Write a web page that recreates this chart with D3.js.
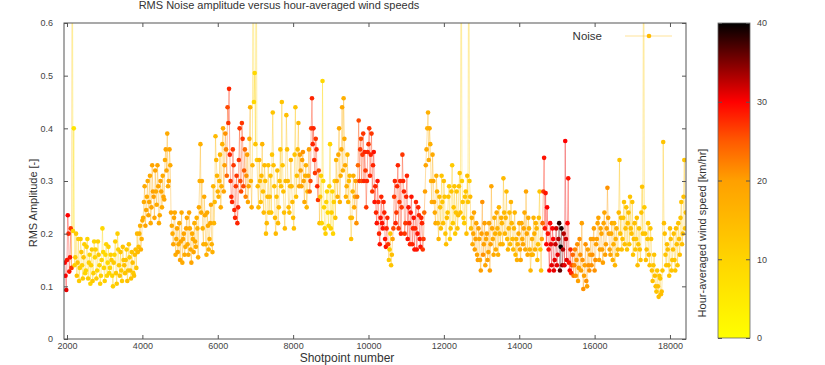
<!DOCTYPE html>
<html>
<head>
<meta charset="utf-8">
<script src="https://cdn.jsdelivr.net/npm/d3@7"></script>
<style>
  body { margin: 0; background: #fff; }
  text { font-family: "Liberation Sans", Arial, sans-serif; }
</style>
</head>
<body>
<svg id="chart" width="825" height="365"></svg>
<script>
// shotpoint numbers, RMS amplitude and hour-averaged wind speed
// (two interleaved passes, merged by shotpoint below)
const shots = [
  1940,1980,2020,2060,2100,2140,2180,2220,2260,2300,
  2340,2380,2420,2460,2500,2540,2580,2620,2660,2700,
  2740,2780,2820,2860,2900,2940,2980,3020,3060,3100,
  3140,3180,3220,3260,3300,3340,3380,3420,3460,3500,
  3540,3580,3620,3660,3700,3740,3780,3820,3860,3900,
  3940,3980,4020,4060,4100,4140,4180,4220,4260,4300,
  4340,4380,4420,4460,4500,4540,4580,4620,4660,4700,
  4740,4780,4820,4860,4900,4940,4980,5020,5060,5100,
  5140,5180,5220,5260,5300,5340,5380,5420,5460,5500,
  5540,5580,5620,5660,5700,5740,5780,5820,5860,5900,
  5940,5980,6020,6060,6100,6140,6180,6220,6260,6300,
  6340,6380,6420,6460,6500,6540,6580,6620,6660,6700,
  6740,6780,6820,6860,6900,6940,6980,7020,7060,7100,
  7140,7180,7220,7260,7300,7340,7380,7420,7460,7500,
  7540,7580,7620,7660,7700,7740,7780,7820,7860,7900,
  7940,7980,8020,8060,8100,8140,8180,8220,8260,8300,
  8340,8380,8420,8460,8500,8540,8580,8620,8660,8700,
  8740,8780,8820,8860,8900,8940,8980,9020,9060,9100,
  9140,9180,9220,9260,9300,9340,9380,9420,9460,9500,
  9540,9580,9620,9660,9700,9740,9780,9820,9860,9900,
  9940,9980,10020,10060,10100,10140,10180,10220,10260,10300,
  10340,10380,10420,10460,10500,10540,10580,10620,10660,10700,
  10740,10780,10820,10860,10900,10940,10980,11020,11060,11100,
  11140,11180,11220,11260,11300,11340,11380,11420,11460,11500,
  11540,11580,11620,11660,11700,11740,11780,11820,11860,11900,
  11940,11980,12020,12060,12100,12140,12180,12220,12260,12300,
  12340,12380,12420,12460,12500,12540,12580,12620,12660,12700,
  12740,12780,12820,12860,12900,12940,12980,13020,13060,13100,
  13140,13180,13220,13260,13300,13340,13380,13420,13460,13500,
  13540,13580,13620,13660,13700,13740,13780,13820,13860,13900,
  13940,13980,14020,14060,14100,14140,14180,14220,14260,14300,
  14340,14380,14420,14460,14500,14540,14580,14620,14660,14700,
  14740,14780,14820,14860,14900,14940,14980,15020,15060,15100,
  15140,15180,15220,15260,15300,15340,15380,15420,15460,15500,
  15540,15580,15620,15660,15700,15740,15780,15820,15860,15900,
  15940,15980,16020,16060,16100,16140,16180,16220,16260,16300,
  16340,16380,16420,16460,16500,16540,16580,16620,16660,16700,
  16740,16780,16820,16860,16900,16940,16980,17020,17060,17100,
  17140,17180,17220,17260,17300,17340,17380,17420,17460,17500,
  17540,17580,17620,17660,17700,17740,17780,17820,17860,17900,
  17940,17980,18020,18060,18100,18140,18180,18220,18260,18300,
  18340,18380,18420
];

const rms = [
  0.145,0.093,0.235,0.128,0.21,0.95,0.40,0.155,0.12,0.19,
  0.135,0.165,0.115,0.18,0.13,0.19,0.145,0.105,0.17,0.125,
  0.155,0.115,0.185,0.14,0.12,0.21,0.135,0.16,0.12,0.175,
  0.135,0.15,0.10,0.16,0.125,0.2,0.14,0.165,0.11,0.15,
  0.125,0.17,0.13,0.155,0.115,0.145,0.12,0.17,0.2,0.175,
  0.215,0.19,0.23,0.29,0.245,0.30,0.26,0.22,0.33,0.27,
  0.32,0.255,0.29,0.235,0.28,0.31,0.265,0.36,0.39,0.30,
  0.33,0.215,0.18,0.24,0.19,0.165,0.22,0.185,0.145,0.2,
  0.175,0.23,0.16,0.21,0.145,0.19,0.22,0.175,0.21,0.25,
  0.37,0.30,0.18,0.235,0.16,0.215,0.19,0.255,0.165,0.22,
  0.385,0.31,0.27,0.35,0.29,0.40,0.33,0.36,0.44,0.475,
  0.30,0.26,0.33,0.23,0.31,0.25,0.40,0.28,0.38,0.32,
  0.27,0.35,0.29,0.44,0.25,0.95,0.505,0.9,0.29,0.34,
  0.26,0.37,0.24,0.30,0.22,0.33,0.27,0.24,0.43,0.29,
  0.20,0.32,0.25,0.36,0.45,0.28,0.21,0.425,0.30,0.24,
  0.34,0.26,0.21,0.44,0.31,0.41,0.35,0.29,0.355,0.26,
  0.33,0.28,0.36,0.30,0.457,0.40,0.315,0.36,0.264,0.22,
  0.31,0.49,0.25,0.20,0.28,0.215,0.37,0.24,0.20,0.30,
  0.34,0.27,0.40,0.31,0.44,0.457,0.33,0.29,0.26,0.31,
  0.19,0.28,0.25,0.30,0.27,0.415,0.36,0.30,0.39,0.355,
  0.25,0.355,0.40,0.35,0.28,0.355,0.29,0.22,0.26,0.18,
  0.27,0.21,0.24,0.175,0.23,0.15,0.20,0.16,0.21,0.30,
  0.24,0.33,0.26,0.20,0.35,0.28,0.22,0.31,0.25,0.18,
  0.27,0.21,0.17,0.26,0.20,0.235,0.175,0.22,0.19,0.28,
  0.36,0.43,0.40,0.30,0.35,0.26,0.22,0.28,0.19,0.25,
  0.31,0.22,0.27,0.18,0.24,0.29,0.21,0.33,0.25,0.20,
  0.28,0.235,0.315,0.95,0.26,0.22,0.28,0.31,0.95,0.27,
  0.23,0.20,0.17,0.22,0.15,0.19,0.13,0.26,0.18,0.14,
  0.20,0.165,0.13,0.29,0.19,0.23,0.17,0.21,0.25,0.18,
  0.22,0.305,0.20,0.28,0.17,0.24,0.26,0.19,0.21,0.16,
  0.15,0.20,0.17,0.22,0.18,0.24,0.28,0.16,0.21,0.13,
  0.19,0.23,0.17,0.21,0.18,0.28,0.13,0.22,0.344,0.277,
  0.25,0.17,0.22,0.14,0.19,0.15,0.21,0.16,0.22,0.175,
  0.14,0.20,0.376,0.15,0.305,0.13,0.125,0.16,0.14,0.12,
  0.18,0.135,0.16,0.22,0.095,0.14,0.11,0.17,0.13,0.19,
  0.16,0.21,0.15,0.19,0.23,0.17,0.20,0.145,0.24,0.18,
  0.287,0.20,0.16,0.22,0.18,0.14,0.21,0.17,0.34,0.23,
  0.19,0.26,0.21,0.17,0.24,0.27,0.20,0.16,0.22,0.19,
  0.14,0.21,0.15,0.289,0.95,0.20,0.17,0.22,0.14,0.19,
  0.11,0.16,0.10,0.13,0.08,0.115,0.09,0.374,0.20,0.14,
  0.17,0.12,0.19,0.15,0.20,0.13,0.18,0.22,0.16,0.26,
  0.20,0.34,0.24
];

const wind = [
  30,31,30,29,27,5,6,12,13,12,
  11,13,12,11,10,10,11,10,12,11,
  10,12,11,10,11,9,10,9,10,11,
  10,12,11,10,12,11,12,13,12,13,
  13,12,13,12,13,14,13,14,15,14,
  17,17,18,18,19,18,19,18,19,20,
  19,18,19,18,19,18,19,19,18,19,
  18,18,19,18,18,19,18,19,18,19,
  18,19,18,18,19,18,17,18,17,18,
  17,18,17,18,17,18,17,18,17,16,
  15,16,17,16,17,18,20,22,26,28,
  27,28,27,28,27,28,27,26,27,25,
  22,20,19,17,18,8,9,9,15,16,
  14,16,15,14,15,14,15,13,13,14,
  15,14,15,14,13,14,15,14,15,14,
  16,15,14,13,14,15,20,19,21,18,
  17,16,20,26,28,28,27,28,27,14,
  11,9,10,11,10,9,10,11,10,12,
  16,17,18,17,18,17,18,17,16,15,
  14,16,18,20,22,26,27,26,27,28,
  27,28,27,28,27,29,28,29,28,29,
  28,29,28,29,28,12,13,14,26,28,
  27,28,27,28,27,28,27,28,29,28,
  29,28,29,28,29,28,29,28,27,20,
  18,17,18,17,18,19,18,17,16,14,
  13,14,13,14,13,12,13,12,13,12,
  13,14,13,10,13,12,13,14,10,15,
  17,19,20,19,20,19,20,21,20,19,
  20,19,20,19,18,17,18,17,16,17,
  16,15,16,15,16,15,16,15,16,15,
  17,18,19,18,19,18,19,18,17,16,
  17,16,17,16,14,13,14,24,29,29,
  30,29,30,31,30,31,32,31,38,40,
  34,33,30,31,29,30,28,24,22,21,
  21,20,21,20,21,20,21,20,21,20,
  21,20,21,20,19,20,19,20,19,20,
  21,20,19,18,17,16,17,16,13,14,
  14,13,14,13,14,13,14,13,14,13,
  14,13,14,13,12,13,14,13,14,13,
  14,13,14,13,14,13,14,13,14,13,
  14,13,14,13,14,13,14,13,14,13,
  14,13,13
];

const shotsB = [
  1960,2000,2040,2080,2120,2160,2200,2240,2280,2320,
  2360,2400,2440,2480,2520,2560,2600,2640,2680,2720,
  2760,2800,2840,2880,2920,2960,3000,3040,3080,3120,
  3160,3200,3240,3280,3320,3360,3400,3440,3480,3520,
  3560,3600,3640,3680,3720,3760,3800,3840,3880,3920,
  3960,4000,4040,4080,4120,4160,4200,4240,4280,4320,
  4360,4400,4440,4480,4520,4560,4600,4640,4680,4720,
  4760,4800,4840,4880,4920,4960,5000,5040,5080,5120,
  5160,5200,5240,5280,5320,5360,5400,5440,5480,5520,
  5560,5600,5640,5680,5720,5760,5800,5840,5880,5920,
  5960,6000,6040,6080,6120,6160,6200,6240,6280,6320,
  6360,6400,6440,6480,6520,6560,6600,6640,6680,6720,
  6760,6800,6840,6880,6920,6960,7000,7040,7080,7120,
  7160,7200,7240,7280,7320,7360,7400,7440,7480,7520,
  7560,7600,7640,7680,7720,7760,7800,7840,7880,7920,
  7960,8000,8040,8080,8120,8160,8200,8240,8280,8320,
  8360,8400,8440,8480,8520,8560,8600,8640,8680,8720,
  8760,8800,8840,8880,8920,8960,9000,9040,9080,9120,
  9160,9200,9240,9280,9320,9360,9400,9440,9480,9520,
  9560,9600,9640,9680,9720,9760,9800,9840,9880,9920,
  9960,10000,10040,10080,10120,10160,10200,10240,10280,10320,
  10360,10400,10440,10480,10520,10560,10600,10640,10680,10720,
  10760,10800,10840,10880,10920,10960,11000,11040,11080,11120,
  11160,11200,11240,11280,11320,11360,11400,11440,11480,11520,
  11560,11600,11640,11680,11720,11760,11800,11840,11880,11920,
  11960,12000,12040,12080,12120,12160,12200,12240,12280,12320,
  12360,12400,12440,12480,12520,12560,12600,12640,12680,12720,
  12760,12800,12840,12880,12920,12960,13000,13040,13080,13120,
  13160,13200,13240,13280,13320,13360,13400,13440,13480,13520,
  13560,13600,13640,13680,13720,13760,13800,13840,13880,13920,
  13960,14000,14040,14080,14120,14160,14200,14240,14280,14320,
  14360,14400,14440,14480,14520,14560,14600,14640,14680,14720,
  14760,14800,14840,14880,14920,14960,15000,15040,15080,15120,
  15160,15200,15240,15280,15320,15360,15400,15440,15480,15520,
  15560,15600,15640,15680,15720,15760,15800,15840,15880,15920,
  15960,16000,16040,16080,16120,16160,16200,16240,16280,16320,
  16360,16400,16440,16480,16520,16560,16600,16640,16680,16720,
  16760,16800,16840,16880,16920,16960,17000,17040,17080,17120,
  17160,17200,17240,17280,17320,17360,17400,17440,17480,17520,
  17560,17600,17640,17680,17720,17760,17800,17840,17880,17920,
  17960,18000,18040,18080,18120,18160,18200,18240,18280,18320,
  18360,18400
];

const rmsB = [
  0.12,0.15,0.20,0.155,0.135,0.205,0.14,0.20,0.145,0.11,
  0.19,0.14,0.155,0.125,0.175,0.115,0.16,0.14,0.11,0.185,
  0.17,0.13,0.16,0.105,0.15,0.165,0.11,0.18,0.145,0.125,
  0.16,0.12,0.145,0.185,0.105,0.17,0.12,0.13,0.175,0.14,
  0.15,0.11,0.18,0.13,0.165,0.125,0.16,0.135,0.165,0.20,
  0.17,0.225,0.26,0.215,0.27,0.235,0.31,0.25,0.28,0.23,
  0.28,0.33,0.22,0.30,0.25,0.27,0.34,0.32,0.29,0.36,
  0.24,0.20,0.23,0.16,0.21,0.18,0.15,0.24,0.19,0.16,
  0.21,0.18,0.24,0.17,0.20,0.165,0.185,0.23,0.155,0.30,
  0.24,0.21,0.27,0.18,0.24,0.17,0.22,0.18,0.29,0.26,
  0.34,0.28,0.30,0.25,0.37,0.28,0.39,0.31,0.41,0.35,
  0.27,0.36,0.245,0.29,0.22,0.34,0.30,0.41,0.29,0.36,
  0.31,0.26,0.38,0.30,0.33,0.45,0.37,0.34,0.25,0.30,
  0.31,0.28,0.33,0.20,0.27,0.24,0.31,0.35,0.33,0.23,
  0.27,0.22,0.30,0.29,0.33,0.24,0.30,0.36,0.25,0.29,
  0.29,0.23,0.35,0.27,0.36,0.29,0.32,0.34,0.30,0.31,
  0.25,0.31,0.28,0.40,0.37,0.34,0.38,0.29,0.32,0.27,
  0.22,0.30,0.21,0.26,0.24,0.29,0.21,0.28,0.26,0.23,
  0.30,0.35,0.26,0.36,0.32,0.38,0.27,0.35,0.30,0.23,
  0.23,0.31,0.27,0.22,0.33,0.30,0.38,0.35,0.30,0.32,
  0.30,0.37,0.31,0.39,0.33,0.26,0.24,0.30,0.20,0.23,
  0.22,0.26,0.19,0.21,0.18,0.17,0.14,0.19,0.27,0.22,
  0.29,0.21,0.30,0.25,0.30,0.20,0.27,0.19,0.22,0.24,
  0.18,0.23,0.21,0.17,0.25,0.19,0.23,0.17,0.24,0.33,
  0.40,0.34,0.37,0.26,0.30,0.24,0.31,0.22,0.27,0.21,
  0.26,0.30,0.20,0.23,0.27,0.19,0.28,0.22,0.29,0.24,
  0.21,0.29,0.24,0.30,0.23,0.27,0.20,0.26,0.30,0.21,
  0.18,0.24,0.19,0.16,0.21,0.15,0.20,0.16,0.22,0.19,
  0.15,0.22,0.18,0.21,0.16,0.20,0.24,0.16,0.20,0.23,
  0.18,0.24,0.23,0.19,0.21,0.18,0.22,0.17,0.24,0.19,
  0.18,0.22,0.15,0.19,0.21,0.17,0.20,0.23,0.17,0.16,
  0.16,0.20,0.22,0.15,0.23,0.17,0.19,0.28,0.21,0.18,
  0.20,0.13,0.18,0.21,0.13,0.18,0.14,0.19,0.13,0.21,
  0.17,0.14,0.19,0.22,0.145,0.17,0.14,0.12,0.17,0.15,
  0.11,0.19,0.13,0.15,0.12,0.18,0.10,0.14,0.16,0.14,
  0.19,0.13,0.18,0.22,0.15,0.21,0.17,0.22,0.16,0.21,
  0.23,0.17,0.20,0.15,0.22,0.19,0.16,0.24,0.20,0.17,
  0.23,0.18,0.25,0.22,0.18,0.21,0.26,0.19,0.17,0.23,
  0.18,0.17,0.24,0.20,0.25,0.15,0.19,0.16,0.21,0.13,
  0.14,0.12,0.09,0.10,0.12,0.085,0.13,0.22,0.16,0.18,
  0.14,0.21,0.13,0.17,0.15,0.21,0.14,0.19,0.23,0.18,
  0.27,0.21
];

const windB = [
  30,29,28,29,27,10,11,12,13,12,
  12,11,13,10,11,12,10,11,12,10,
  11,10,12,11,10,9,11,10,9,10,
  11,10,12,11,12,11,13,12,13,14,
  13,14,13,14,13,12,14,13,15,16,
  17,18,18,19,18,19,18,19,20,19,
  18,19,18,19,18,19,18,19,18,19,
  19,18,19,18,19,18,19,18,19,18,
  19,18,19,18,18,19,18,17,18,17,
  18,17,18,17,18,17,18,17,16,15,
  16,17,16,18,17,19,21,24,27,28,
  28,27,28,27,28,27,26,27,26,24,
  21,19,18,17,16,9,13,12,15,15,
  15,14,15,14,15,14,14,13,14,15,
  14,15,14,14,13,14,15,14,15,15,
  15,14,13,14,15,19,20,20,19,17,
  16,18,24,27,28,28,27,28,26,13,
  10,9,11,10,9,10,11,10,11,13,
  17,18,17,18,17,18,17,16,15,15,
  15,17,19,21,24,27,26,27,28,27,
  28,27,28,27,28,29,28,29,28,29,
  29,28,29,28,27,12,13,20,27,28,
  28,27,28,27,28,27,28,29,28,29,
  28,29,28,29,28,29,28,27,24,19,
  17,18,17,18,19,18,17,16,15,14,
  13,14,13,14,13,12,13,12,13,13,
  14,13,14,11,12,13,14,13,12,15,
  18,19,20,19,20,19,20,21,20,19,
  20,19,20,19,18,17,18,17,16,17,
  16,15,16,15,16,15,16,15,16,16,
  17,18,19,18,19,18,19,18,17,17,
  16,17,16,15,14,13,20,27,29,30,
  29,30,31,30,31,32,31,33,36,39,
  33,31,32,30,29,28,26,23,22,21,
  20,21,20,21,20,21,20,21,20,21,
  20,21,20,19,20,19,20,19,20,20,
  20,19,18,17,16,17,16,15,14,14,
  13,14,13,14,13,14,13,14,13,14,
  13,14,13,13,12,14,13,14,13,14,
  13,14,13,14,13,14,13,14,13,14,
  13,14,13,14,13,14,13,14,13,14,
  14,13
];

const xTicks = [2000, 4000, 6000, 8000, 10000, 12000, 14000, 16000, 18000];
const yTicks = [0, 0.1, 0.2, 0.3, 0.4, 0.5, 0.6];
const windTicks = [0, 10, 20, 30, 40];
const paletteStops = [0, 10, 20, 25, 30, 40];
const paletteColours = ['#ffff00', '#ffd400', '#ffa000', '#ff5a00', '#ff0000', '#000000'];

const svg = d3.select('#chart');

const x = d3.scaleLinear().domain([1920, 18425]).range([64, 686]);
const y = d3.scaleLinear().domain([0, 0.6]).range([339, 23]);
const colour = d3.scaleLinear().domain(paletteStops).range(paletteColours).clamp(true);

let points = shots.map((s, i) => ({ s: s, v: rms[i], w: wind[i] }))
  .concat(shotsB.map((s, i) => ({ s: s, v: rmsB[i], w: windB[i] })));
points.sort((a, b) => a.s - b.s);

svg.append('defs').append('clipPath').attr('id', 'plotclip')
  .append('rect').attr('x', 64).attr('y', 23).attr('width', 622).attr('height', 316);

// title
svg.append('text')
  .attr('x', 279).attr('y', 9)
  .attr('text-anchor', 'middle')
  .attr('font-size', 11).attr('fill', '#333')
  .text('RMS Noise amplitude versus hour-averaged wind speeds');

let g = svg.append('g').attr('clip-path', 'url(#plotclip)');

// connecting line segments, coloured by wind speed
g.selectAll('line.seg')
  .data(points.slice(1))
  .enter()
  .append('line')
  .attr('class', 'seg')
  .attr('x1', (d, i) => x(points[i].s))
  .attr('y1', (d, i) => y(points[i].v))
  .attr('x2', d => x(d.s))
  .attr('y2', d => y(d.v))
  .attr('stroke', (d, i) => colour((d.w + points[i].w) / 2))
  .attr('stroke-opacity', 0.45)
  .attr('stroke-width', 0.8);

g.selectAll('circle')
  .data(points)
  .enter()
  .append('circle')
  .attr('cx', d => x(d.s))
  .attr('cy', d => y(d.v))
  .attr('r', 2.3)
  .attr('fill', d => colour(d.w));

// axes with inward ticks on all four sides
const axisStyle = sel => {
  sel.select('.domain').remove();
  sel.selectAll('line').attr('stroke', '#555');
  sel.selectAll('text').attr('font-size', 9).attr('fill', '#444')
    .attr('font-family', '"Liberation Sans", Arial, sans-serif');
};

svg.append('g').attr('transform', 'translate(0,339)')
  .call(d3.axisBottom(x).tickValues(xTicks).tickSize(-4).tickPadding(4).tickFormat(d3.format('d')))
  .call(axisStyle);
svg.append('g').attr('transform', 'translate(0,23)')
  .call(d3.axisTop(x).tickValues(xTicks).tickSize(-4).tickFormat(''))
  .call(axisStyle);
svg.append('g').attr('transform', 'translate(64,0)')
  .call(d3.axisLeft(y).tickValues(yTicks).tickSize(-4).tickPadding(11).tickFormat(d => d === 0 ? '0' : d3.format('.1f')(d)))
  .call(axisStyle);
svg.append('g').attr('transform', 'translate(686,0)')
  .call(d3.axisRight(y).tickValues(yTicks).tickSize(-4).tickFormat(''))
  .call(axisStyle);

svg.append('rect')
  .attr('x', 64).attr('y', 23).attr('width', 622).attr('height', 316)
  .attr('fill', 'none').attr('stroke', '#555').attr('stroke-width', 1);

svg.append('text')
  .attr('transform', 'translate(37,203) rotate(-90)')
  .attr('text-anchor', 'middle')
  .attr('font-size', 11).attr('fill', '#333')
  .text('RMS Amplitude [-]');

svg.append('text')
  .attr('x', 347).attr('y', 362)
  .attr('text-anchor', 'middle')
  .attr('font-size', 12).attr('fill', '#333')
  .text('Shotpoint number');

// legend
svg.append('text')
  .attr('x', 602).attr('y', 40)
  .attr('text-anchor', 'end')
  .attr('font-size', 11.5).attr('fill', '#333')
  .text('Noise');
svg.append('line')
  .attr('x1', 625).attr('x2', 672).attr('y1', 36).attr('y2', 36)
  .attr('stroke', colour(15)).attr('stroke-opacity', 0.5).attr('stroke-width', 0.8);
svg.append('circle')
  .attr('cx', 649).attr('cy', 36).attr('r', 2.3).attr('fill', colour(15));

// colour bar
const cb = d3.scaleLinear().domain([0, 40]).range([338, 23]);
const grad = svg.select('defs').append('linearGradient')
  .attr('id', 'windgrad')
  .attr('x1', 0).attr('y1', 1).attr('x2', 0).attr('y2', 0);
grad.selectAll('stop')
  .data(paletteStops)
  .enter()
  .append('stop')
  .attr('offset', d => d / 40)
  .attr('stop-color', (d, i) => paletteColours[i]);

svg.append('rect')
  .attr('x', 718).attr('y', 23).attr('width', 32).attr('height', 315)
  .attr('fill', 'url(#windgrad)').attr('stroke', '#666').attr('stroke-width', 0.8);

svg.append('g').attr('transform', 'translate(750,0)')
  .call(d3.axisRight(cb).tickValues(windTicks).tickSize(-4).tickPadding(7))
  .call(axisStyle);
svg.append('g').attr('transform', 'translate(718,0)')
  .call(d3.axisLeft(cb).tickValues(windTicks).tickSize(-4).tickFormat(''))
  .call(axisStyle);

svg.append('text')
  .attr('transform', 'translate(706,233) rotate(-90)')
  .attr('text-anchor', 'middle')
  .attr('font-size', 11).attr('fill', '#333')
  .text('Hour-averaged wind speed [km/hr]');
</script>
</body>
</html>
